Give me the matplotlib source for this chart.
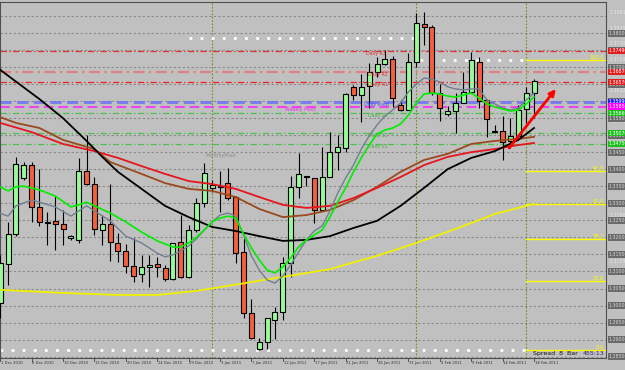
import matplotlib
matplotlib.use("Agg")
import matplotlib.pyplot as plt
from matplotlib import transforms

# daily bars 1 Dec 2010 .. 18 Feb 2011 (terminal shows sunday bars too)
opens = [1.3007, 1.3122, 1.3210, 1.3375, 1.3413, 1.3290, 1.3247, 1.3249, 1.3240, 1.3199,
         1.3193, 1.3396, 1.3357, 1.3222, 1.3240, 1.3184, 1.3160, 1.3116, 1.3093, 1.3113,
         1.3122, 1.3110, 1.3078, 1.3187, 1.3084, 1.3222, 1.3301, 1.3346, 1.3351, 1.3360,
         1.3319, 1.3157, 1.2978, 1.2872, 1.2893, 1.2957, 1.2981, 1.3125, 1.3349, 1.3381,
         1.3375, 1.3281, 1.3378, 1.3451, 1.3463, 1.3643, 1.3619, 1.3646, 1.3687, 1.3710,
         1.3725, 1.3590, 1.3575, 1.3716, 1.3828, 1.3819, 1.3625, 1.3563, 1.3572, 1.3596,
         1.3628, 1.3716, 1.3604, 1.3513, 1.3513, 1.3484, 1.3499, 1.3578, 1.3625]
highs = [1.3149, 1.3246, 1.3437, 1.3422, 1.3422, 1.3401, 1.3275, 1.3322, 1.3281, 1.3207,
         1.3434, 1.3501, 1.3378, 1.3266, 1.3357, 1.3213, 1.3181, 1.3199, 1.3149, 1.3149,
         1.3143, 1.3119, 1.3184, 1.3266, 1.3237, 1.3316, 1.3419, 1.3369, 1.3396, 1.3404,
         1.3322, 1.3199, 1.3019, 1.2904, 1.2963, 1.2996, 1.3143, 1.3381, 1.3449, 1.3381,
         1.3375, 1.3466, 1.3510, 1.3501, 1.3625, 1.3649, 1.3681, 1.3713, 1.3731, 1.3751,
         1.3734, 1.3604, 1.3743, 1.3860, 1.3863, 1.3825, 1.3651, 1.3587, 1.3625, 1.3687,
         1.3746, 1.3731, 1.3607, 1.3531, 1.3557, 1.3551, 1.3590, 1.3643, 1.3666]
lows = [1.2963, 1.3060, 1.3204, 1.3369, 1.3246, 1.3234, 1.3178, 1.3163, 1.3178, 1.3193,
        1.3184, 1.3354, 1.3207, 1.3178, 1.3131, 1.3128, 1.3096, 1.3069, 1.3069, 1.3054,
        1.3084, 1.3072, 1.3075, 1.3081, 1.3081, 1.3216, 1.3290, 1.3334, 1.3275, 1.3310,
        1.3125, 1.2963, 1.2901, 1.2869, 1.2872, 1.2901, 1.2957, 1.3084, 1.3316, 1.3351,
        1.3243, 1.3281, 1.3378, 1.3399, 1.3451, 1.3604, 1.3540, 1.3581, 1.3672, 1.3707,
        1.3584, 1.3572, 1.3575, 1.3701, 1.3766, 1.3619, 1.3543, 1.3557, 1.3507, 1.3596,
        1.3625, 1.3581, 1.3496, 1.3507, 1.3428, 1.3463, 1.3487, 1.3537, 1.3551]
closes = [1.3125, 1.3210, 1.3416, 1.3413, 1.3290, 1.3246, 1.3244, 1.3240, 1.3225, 1.3204,
          1.3396, 1.3357, 1.3225, 1.3240, 1.3187, 1.3160, 1.3116, 1.3087, 1.3113, 1.3119,
          1.3113, 1.3078, 1.3184, 1.3084, 1.3222, 1.3301, 1.3390, 1.3354, 1.3349, 1.3316,
          1.3154, 1.2978, 1.2904, 1.2893, 1.2963, 1.2981, 1.3125, 1.3349, 1.3387, 1.3378,
          1.3281, 1.3378, 1.3451, 1.3466, 1.3622, 1.3619, 1.3643, 1.3687, 1.3710, 1.3725,
          1.3610, 1.3575, 1.3716, 1.3831, 1.3819, 1.3625, 1.3581, 1.3572, 1.3596, 1.3628,
          1.3722, 1.3601, 1.3549, 1.3510, 1.3481, 1.3499, 1.3575, 1.3625, 1.3660]

date_labels = ["1 Dec 2010", "6 Dec 2010", "10 Dec 2010", "15 Dec 2010", "20 Dec 2010",
               "24 Dec 2010", "29 Dec 2010", "3 Jan 2011", "7 Jan 2011", "12 Jan 2011",
               "17 Jan 2011", "21 Jan 2011", "26 Jan 2011", "31 Jan 2011", "4 Feb 2011",
               "9 Feb 2011", "14 Feb 2011", "18 Feb 2011"]
date_bars = [0, 4, 8, 12, 16, 20, 24, 28, 32, 36, 40, 44, 48, 52, 56, 60, 64, 68]

# moving averages (bar index, price)
black_x = [0, 5, 8, 11, 13, 15, 18, 21, 24, 27, 30, 33, 36, 39, 42, 45, 48, 51, 54, 57, 60, 63, 66, 68]
black_y = [1.3693, 1.3607, 1.3551, 1.3484, 1.3437, 1.3393, 1.3343, 1.3293, 1.3260, 1.3231, 1.3219, 1.3204,
           1.3190, 1.3193, 1.3204, 1.3228, 1.3249, 1.3293, 1.3346, 1.3401, 1.3434, 1.3454, 1.3487, 1.3522]
red_x = [0, 4, 8, 12, 15, 18, 21, 24, 27, 30, 33, 36, 39, 42, 45, 48, 51, 54, 57, 60, 63, 66, 68]
red_y = [1.3537, 1.3510, 1.3475, 1.3454, 1.3434, 1.3410, 1.3387, 1.3366, 1.3357, 1.3343, 1.3319, 1.3296,
         1.3287, 1.3293, 1.3316, 1.3346, 1.3378, 1.3413, 1.3437, 1.3451, 1.3460, 1.3472, 1.3478]
brown_x = [0, 2, 5, 8, 12, 14, 18, 21, 24, 27, 30, 33, 36, 39, 42, 45, 48, 51, 54, 57, 60, 63, 66, 68]
brown_y = [1.3554, 1.3537, 1.3522, 1.3487, 1.3460, 1.3422, 1.3387, 1.3360, 1.3343, 1.3337, 1.3319, 1.3284,
           1.3260, 1.3266, 1.3281, 1.3310, 1.3349, 1.3393, 1.3428, 1.3446, 1.3475, 1.3484, 1.3490, 1.3496]
yellow_x = [0, 8, 15, 20, 25, 28, 32, 36, 42, 48, 53, 58, 63, 68]
yellow_y = [1.3046, 1.3037, 1.3031, 1.3031, 1.3043, 1.3054, 1.3069, 1.3084, 1.3107, 1.3146, 1.3184,
            1.3225, 1.3269, 1.3299]
lime_x = [0, 1, 2, 3, 5, 7, 9, 10, 11, 12, 14, 16, 18, 20, 22, 23, 24, 25, 26, 27,
          28, 29, 30, 31, 32, 33, 34, 35, 36, 37, 38, 39, 40, 41, 42, 43, 44, 45, 46, 47, 48,
          49, 50, 51, 52, 53, 54, 55, 56, 57, 58, 59, 60, 61, 62, 63, 64, 65, 66, 67, 68]
lime_y = [1.3349, 1.3337, 1.3349, 1.3351, 1.3340, 1.3322, 1.3290, 1.3296, 1.3304, 1.3293,
          1.3272, 1.3246, 1.3216, 1.3190, 1.3172, 1.3172, 1.3184, 1.3201, 1.3222, 1.3246,
          1.3257, 1.3263, 1.3257, 1.3210, 1.3169, 1.3134, 1.3104, 1.3096, 1.3113, 1.3140, 1.3172,
          1.3193, 1.3207, 1.3222, 1.3260, 1.3304, 1.3346, 1.3393, 1.3434, 1.3472, 1.3504,
          1.3516, 1.3522, 1.3534, 1.3560, 1.3596, 1.3622, 1.3625, 1.3622, 1.3616, 1.3613,
          1.3619, 1.3625, 1.3610, 1.3593, 1.3584, 1.3578, 1.3572, 1.3575, 1.3593, 1.3613]
slate_x = [0, 1, 2, 4, 5, 7, 9, 11, 12, 14, 16, 18, 20, 21, 22, 23, 24, 25, 26, 27,
           28, 29, 30, 31, 32, 33, 34, 35, 36, 37, 38, 39, 40, 41, 42, 43, 44, 45, 46, 47, 48,
           49, 50, 51, 52, 53, 54, 55, 56, 57, 58, 59, 60, 61, 62, 63, 64, 65, 66, 67, 68]
slate_y = [1.3271, 1.3263, 1.3293, 1.3310, 1.3304, 1.3290, 1.3263, 1.3293, 1.3278, 1.3249,
           1.3204, 1.3184, 1.3154, 1.3143, 1.3149, 1.3160, 1.3175, 1.3196, 1.3222, 1.3246,
           1.3266, 1.3272, 1.3263, 1.3207, 1.3146, 1.3104, 1.3075, 1.3066, 1.3087, 1.3119, 1.3157,
           1.3193, 1.3219, 1.3234, 1.3278, 1.3331, 1.3375, 1.3413, 1.3460, 1.3499, 1.3531,
           1.3557, 1.3575, 1.3596, 1.3628, 1.3651, 1.3669, 1.3666, 1.3657, 1.3643, 1.3637,
           1.3634, 1.3637, 1.3637, 1.3604, 1.3593, 1.3581, 1.3575, 1.3581, 1.3604, 1.3625]

# pivot levels
pivot_names = ["Daily R3", "Daily R2", "Daily R1", "Daily Pivot", "Weekly Pivot", "Daily S1", "Daily S2", "Daily S3"]
pivot_prices = [1.3749, 1.3687, 1.3657, 1.3599, 1.3585, 1.3566, 1.3507, 1.3475]
monthly_pivot = 1.3450

fib_labels = ["100.0", "61.8", "50.0", "38.2", "23.6", "0.0"]
fib_prices = [1.3722, 1.3396, 1.3299, 1.3196, 1.3072, 1.2869]

grid_levels = [1.285, 1.290, 1.295, 1.300, 1.305, 1.310, 1.315, 1.320, 1.325, 1.330, 1.335,
               1.340, 1.345, 1.350, 1.355, 1.360, 1.365, 1.370, 1.375, 1.380, 1.385]
scale_labels = [1.3861, 1.3815, 1.3770, 1.3724, 1.3632, 1.3541, 1.3266, 1.3129]

BG = '#c0c0c0'
small = ['DejaVu Sans']

fig = plt.figure(figsize=(6.25, 3.70), dpi=100, facecolor=BG)
ax = fig.add_axes([0, 12 / 370, 606 / 625, 356 / 370])
ax.set_facecolor(BG)
ax.set_xlim(-0.03, 77.17)
ax.set_ylim(1.28456, 1.38926)
ax.set_xticks([])
ax.set_yticks([])
for s in ax.spines.values():
    s.set_color('#505050')
    s.set_linewidth(0.8)

# grid
for g in grid_levels:
    ax.axhline(g, color='#8a8a8a', lw=0.8, ls=(0, (2, 2)), zorder=1)

# period separators
for b in [27, 53, 67]:
    ax.axvline(b, color='#6b8e23', lw=0.8, ls=(0, (1.5, 1.5)), zorder=1)

# pivot lines
ax.axhline(pivot_prices[0], color='#e03030', lw=0.9, ls=(0, (5, 2, 1, 2)), zorder=1)
ax.axhline(pivot_prices[1], color='#e08080', lw=1.6, ls=(0, (5, 2, 1, 2)), zorder=1)
ax.axhline(pivot_prices[2], color='#ee2020', lw=0.9, ls=(0, (5, 2, 1, 2)), zorder=1)
ax.axhline(pivot_prices[3], color='#7878f0', lw=2.0, ls=(0, (4, 2)), zorder=1)
ax.axhline(pivot_prices[4], color='#f040f0', lw=1.4, ls=(0, (5, 2.5)), zorder=1)
for p in pivot_prices[5:]:
    ax.axhline(p, color='#4cc04c', lw=0.9, ls=(0, (5, 2, 1, 2)), zorder=1)

# white dotted high/low lines
ax.plot([24, 53], [1.3788, 1.3788], color='white', lw=2, ls=(0, (1, 3)), zorder=1)
ax.plot([53.5, 67], [1.3722, 1.3722], color='white', lw=2, ls=(0, (1, 3)), zorder=1)
ax.plot([0, 67], [1.2869, 1.2869], color='white', lw=2, ls=(0, (1, 3)), zorder=1)

# fibo
for lab, p in zip(fib_labels, fib_prices):
    ax.plot([67, 77.2], [p, p], color='#ffff00', lw=1, zorder=1)
    ax.text(76.9, p, lab, color='#ffff00', fontsize=3.6, family=small, ha='right', va='bottom', zorder=5)

# candles
idx = list(range(len(opens)))
up_c = ['#98fb98' if c >= o else '#f4603c' for o, c in zip(opens, closes)]
ax.vlines(idx, lows, highs, color='black', lw=0.8, zorder=3)
body_h = [c - o for o, c in zip(opens, closes)]
ax.bar(idx, body_h, bottom=opens, width=0.64, color=up_c, edgecolor='black', linewidth=0.8, zorder=4)

# moving averages
ax.plot(yellow_x, yellow_y, color='#f0f000', lw=1.3, zorder=5)
ax.plot(brown_x, brown_y, color='#9a4a1c', lw=1.3, zorder=5)
ax.plot(red_x, red_y, color='#e8141e', lw=1.3, zorder=5)
ax.plot(black_x, black_y, color='black', lw=1.3, zorder=5)
ax.plot(slate_x, slate_y, color='#708090', lw=1.0, zorder=5)
ax.plot(lime_x, lime_y, color='#00ee00', lw=1.2, zorder=5)

# pivot texts
txt_col = ['#e03030', '#e03030', '#e03030', '#4a4ae8', '#f030f0', '#40b040', '#40b040', '#40b040']
txt_x = [46.6, 46.8, 46.8, 46.4, 36.3, 46.8, 46.8, 46.8]
for n, p, c, xx in zip(pivot_names, pivot_prices, txt_col, txt_x):
    ax.text(xx, p - 0.00005, n, color=c, fontsize=3.4, family=small, ha='left', va='top', zorder=6)
ax.text(26.1, monthly_pivot - 0.00005, "MonthlyPivot", color='#8c8c8c', fontsize=3.4, family=small,
        ha='left', va='top', zorder=6)

# arrow
ax.annotate('', xy=(71.0, 1.3643), xytext=(64.6, 1.3457),
            arrowprops=dict(arrowstyle='-|>', color='#ff0000', lw=2, mutation_scale=9), zorder=7)

# spread text
ax.text(67.9, 1.28575, "Spread  8  Bar", color='#101010', fontsize=4.5, ha='left', va='center', zorder=6)
ax.text(74.2, 1.28575, "455:13", color='#20207a', fontsize=4.5, ha='left', va='center', zorder=6)

# date axis
bx = transforms.blended_transform_factory(ax.transData, ax.transAxes)
for b, lab in zip(date_bars, date_labels):
    ax.text(b + 0.1, -0.009, lab, transform=bx, color='#303030', fontsize=2.7, family=small,
            ha='left', va='top', clip_on=False)
    ax.plot([b, b], [0, -0.008], transform=bx, color='#404040', lw=0.6, clip_on=False)

# price axis
by = transforms.blended_transform_factory(ax.transAxes, ax.transData)
for p in scale_labels:
    ax.text(1.006, p, '%.5f' % p, transform=by, color='#e4e4e4', fontsize=3.4, family=small,
            ha='left', va='center', clip_on=False)
for g in grid_levels[:-1]:
    ax.text(1.004, g, '%.5f' % g, transform=by, color='#d4d4d4', fontsize=3.4, family=small,
            ha='left', va='center', clip_on=False,
            bbox=dict(boxstyle='square,pad=0.15', fc='#6a6a6a', ec='none'))
box_cols = ['#e02020', '#e02020', '#e02020', '#2020ff', '#ff00ff', '#20c020', '#20c020', '#20c020']
for p, c in zip(pivot_prices, box_cols):
    ax.text(1.004, p, '%.5f' % p, transform=by, color='white', fontsize=3.4, family=small,
            ha='left', va='center', clip_on=False,
            bbox=dict(boxstyle='square,pad=0.15', fc=c, ec='none'))

plt.savefig('out.png', dpi=100, facecolor=BG)
